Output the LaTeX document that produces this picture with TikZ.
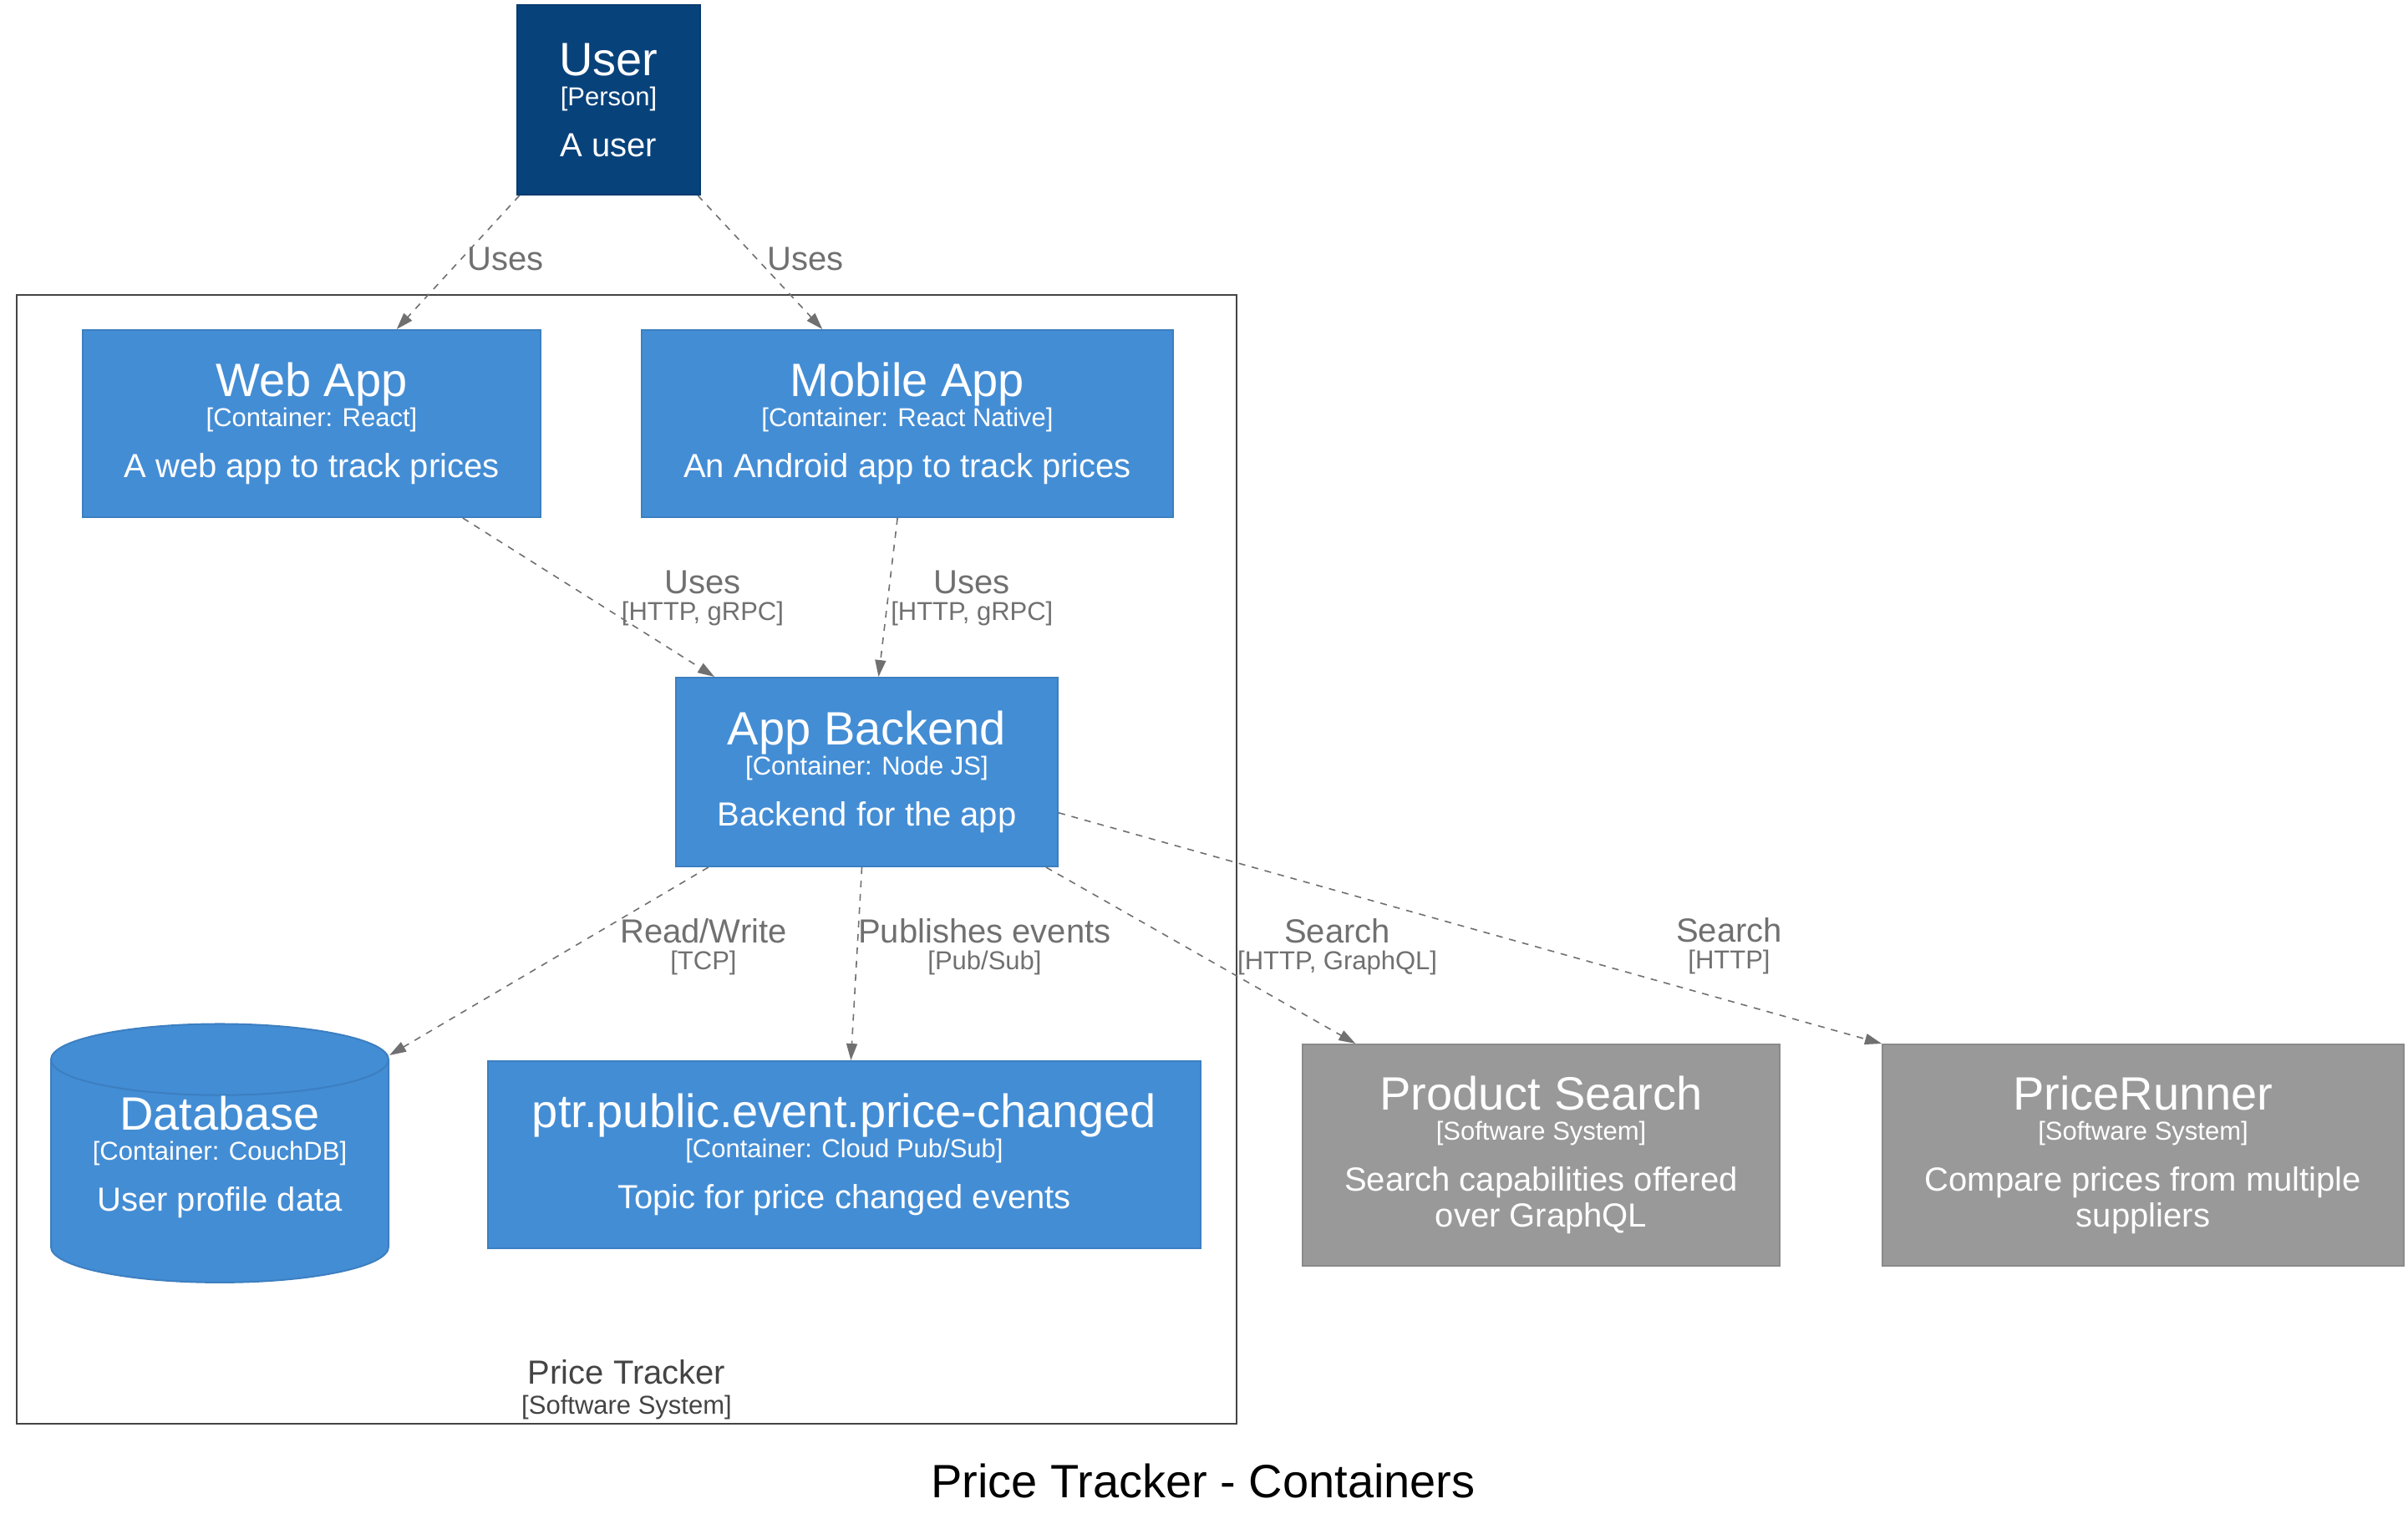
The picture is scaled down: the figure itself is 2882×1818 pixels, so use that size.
\documentclass[tikz,border=0pt]{standalone}
\usepackage{fontspec}
\setmainfont{Liberation Sans}
\usetikzlibrary{arrows.meta, positioning, shapes.geometric}

\definecolor{personblue}{HTML}{08427B}
\definecolor{containerblue}{HTML}{438DD5}
\definecolor{externalgray}{HTML}{999999}
\definecolor{relgray}{HTML}{707070}
\definecolor{boundarygray}{HTML}{444444}

% name, technology, description of an element
\newcommand{\elemtext}[3]{{\fontsize{28}{28}\selectfont #1}\\{\fontsize{15.5}{15.5}\selectfont [#2]}\\[12.5pt]#3}
% label of a relationship
\newcommand{\reltext}[2]{#1\\{\fontsize{15.5}{15.5}\selectfont [#2]}}

\tikzset{
    x=0.5pt, y=-0.5pt, % one unit is one pixel of the layout, y grows downwards
    element/.style={rectangle, inner sep=0pt, align=center, text=white, line width=1pt,
        font=\fontsize{20}{18}\selectfont},
    person/.style={element, fill=personblue, draw=personblue!90!black},
    container/.style={element, fill=containerblue, draw=containerblue!90!black},
    external/.style={element, fill=externalgray, draw=externalgray!90!black},
    database/.style={container, cylinder, shape border rotate=90, aspect=0.28,
        cylinder uses custom fill, cylinder body fill=containerblue, cylinder end fill=containerblue},
    rel/.style={->, relgray, line width=0.8pt, dash pattern=on 4pt off 4pt},
    rellabel/.style={text=relgray, align=center, inner sep=0pt, font=\fontsize{20}{16}\selectfont},
    boundary/.style={draw=boundarygray, line width=1pt, inner sep=0pt},
    >={Triangle[length=10pt, width=6.5pt]},
}

\begin{document}
\begin{tikzpicture}
\useasboundingbox (0,0) rectangle (2882,1818);

% the software system
\node[boundary, minimum width=730pt, minimum height=675.5pt] (tracker) at (750,1028.5) {};
\node[text=boundarygray, align=center, inner sep=0pt, font=\fontsize{20}{18}\selectfont,
    above=3pt of tracker.south] (trackerlabel) {Price Tracker\\{\fontsize{15.5}{15.5}\selectfont [Software System]}};

% elements
\node[person, minimum width=109.5pt, minimum height=113.5pt] (user) at (728.5,119.5)
    {\elemtext{User}{Person}{A user}};
\node[container, minimum width=274pt, minimum height=112pt] (web) at (373,507)
    {\elemtext{Web App}{Container: React}{A web app to track prices}};
\node[container, minimum width=318pt, minimum height=112pt, right=59.5pt of web] (mobile)
    {\elemtext{Mobile App}{Container: React Native}{An Android app to track prices}};
\node[container, minimum width=228.5pt, minimum height=113pt] (backend) at (1037.5,924)
    {\elemtext{App Backend}{Container: Node JS}{Backend for the app}};
\node[database, minimum width=202pt, minimum height=154.5pt, text depth=21.5pt] (db) at (263,1402)
    {\elemtext{Database}{Container: CouchDB}{User profile data}};
\node[container, minimum width=426.5pt, minimum height=112pt] (topic) at (1010.5,1382)
    {\elemtext{ptr.public.event.price-changed}{Container: Cloud Pub/Sub}{Topic for price changed events}};
\node[external, minimum width=285.5pt, minimum height=132.5pt] (search) at (1844.5,1382.5)
    {\elemtext{Product Search}{Software System}{Search capabilities offered\\[2pt]over GraphQL}};
\node[external, minimum width=312pt, minimum height=132.5pt, right=60.5pt of search] (runner)
    {\elemtext{PriceRunner}{Software System}{Compare prices from multiple\\[2pt]suppliers}};

% relationships
\draw[rel] (user.-133) -- node[rellabel, shift={(56.5,-4)}] {Uses} (web.48);
\draw[rel] (user.-47) -- node[rellabel, shift={(54.5,-4)}] {Uses} (mobile.132);
\draw[rel] (web.-32) -- node[rellabel, shift={(136.5,1)}] {\reltext{Uses}{HTTP, gRPC}} (backend.148);
\draw[rel] (mobile.-96) -- node[rellabel, shift={(100.5,1)}] {\reltext{Uses}{HTTP, gRPC}} (backend.83);
\draw[rel] (backend.-149) -- node[rellabel, shift={(185,-17)}] {\reltext{Read/Write}{TCP}} ([yshift=69.5pt]db.east);
\draw[rel] (backend.-93) -- node[rellabel, shift={(153.5,-20.5)}] {\reltext{Publishes events}{Pub/Sub}} (topic.86);
\draw[rel] (backend.-28) -- node[rellabel, shift={(163.5,-10.5)}] {\reltext{Search}{HTTP, GraphQL}} (search.149);
\draw[rel] (backend.-12) -- node[rellabel, shift={(310,21)}] {\reltext{Search}{HTTP}} (runner.north west);

\node[font=\fontsize{28}{28}\selectfont] (title) at (1440,1772) {Price Tracker - Containers};
\end{tikzpicture}
\end{document}
